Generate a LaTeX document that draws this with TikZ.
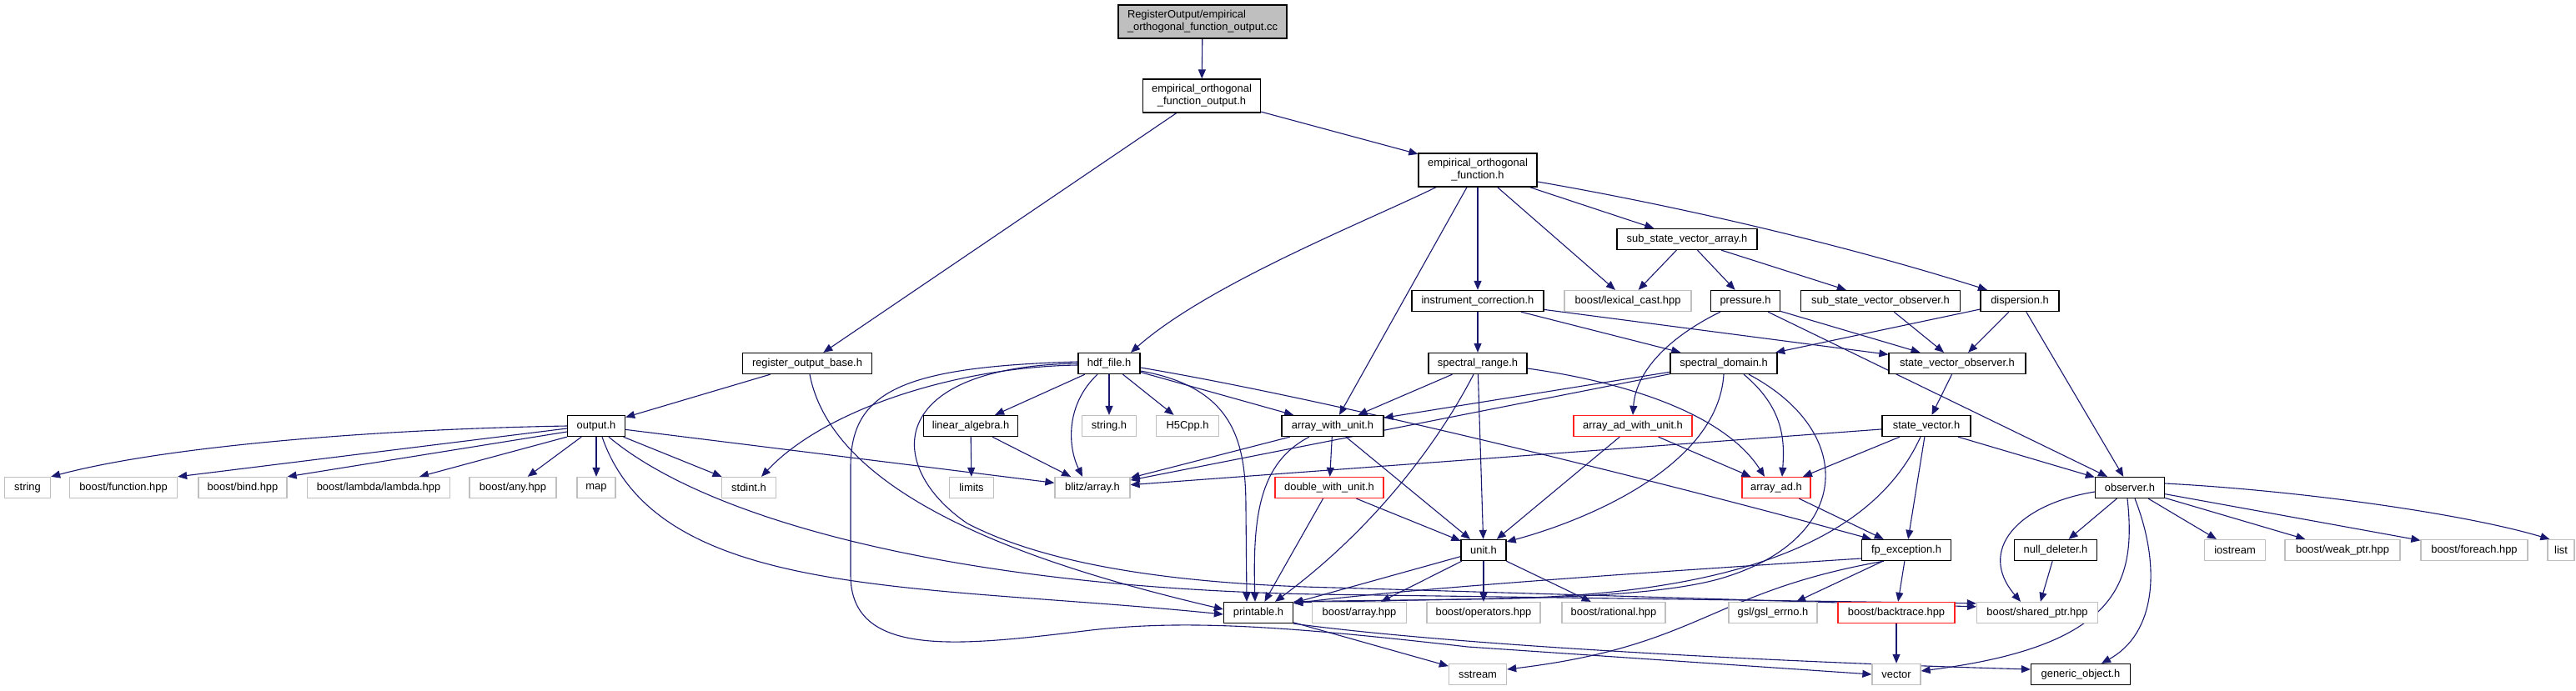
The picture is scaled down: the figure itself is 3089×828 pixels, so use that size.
\documentclass[tikz,border=0pt]{standalone}
\usepackage{fontspec}
\setmainfont{Liberation Sans}
\usetikzlibrary{arrows.meta}
\definecolor{edgecol}{HTML}{191970}
\definecolor{sysgray}{HTML}{BFBFBF}
\definecolor{ccfill}{HTML}{BFBFBF}
\definecolor{trunc}{HTML}{FF2020}
\pgfdeclarelayer{bgl}
\pgfdeclarelayer{edges}
\pgfsetlayers{bgl,edges,main}
\tikzset{
  box/.style={draw=black, line width=1.3pt, fill=white, minimum height=25pt, inner sep=0pt,
              font=\fontsize{12.9pt}{15pt}\selectfont, text=black},
  sysbox/.style={box, draw=sysgray},
  truncbox/.style={box, draw=trunc},
  dep/.style={draw=edgecol, line width=1.1pt, -{Triangle[length=11pt,width=9pt]}},
}
\begin{document}
\begin{tikzpicture}[x=1pt,y=-1pt]
\begin{pgfonlayer}{bgl}
\fill[white] (0,0) rectangle (3089,828);
\end{pgfonlayer}
\useasboundingbox (0,0) rectangle (3089,828);

% ---------- nodes ----------
\node[box, fill=ccfill, minimum width=202pt, minimum height=40pt, align=left] (cc) at (1442,26) {RegisterOutput/empirical\\\_orthogonal\_function\_output.cc};
\node[box, minimum width=141pt, minimum height=40pt, align=center] (eofo) at (1441,115) {empirical\_orthogonal\\\_function\_output.h};
\node[box, minimum width=142pt, minimum height=40pt, align=center] (eof) at (1772,204) {empirical\_orthogonal\\\_function.h};
\node[box, minimum width=168pt] (ssva) at (2023,287) {sub\_state\_vector\_array.h};
\node[box, minimum width=158pt] (instr) at (1772,361) {instrument\_correction.h};
\node[sysbox, minimum width=152pt] (lexcast) at (1952,361) {boost/lexical\_cast.hpp};
\node[box, minimum width=83pt] (pressure) at (2093,361) {pressure.h};
\node[box, minimum width=191pt] (ssvo) at (2255,361) {sub\_state\_vector\_observer.h};
\node[box, minimum width=94pt] (disp) at (2422,361) {dispersion.h};
\node[box, minimum width=155pt] (rob) at (968,436) {register\_output\_base.h};
\node[box, minimum width=74pt] (hdf) at (1330,436) {hdf\_file.h};
\node[box, minimum width=118pt] (specrange) at (1772,436) {spectral\_range.h};
\node[box, minimum width=128pt] (specdom) at (2067,436) {spectral\_domain.h};
\node[box, minimum width=164pt] (svo) at (2347,436) {state\_vector\_observer.h};
\node[box, minimum width=69pt] (output) at (715,511) {output.h};
\node[box, minimum width=113pt] (linalg) at (1164,511) {linear\_algebra.h};
\node[sysbox, minimum width=65pt] (stringh) at (1330,511) {string.h};
\node[sysbox, minimum width=75pt] (hfive) at (1424,511) {H5Cpp.h};
\node[box, minimum width=122pt] (awu) at (1598,511) {array\_with\_unit.h};
\node[truncbox, minimum width=142pt] (aawu) at (1958,511) {array\_ad\_with\_unit.h};
\node[box, minimum width=106pt] (sv) at (2310,511) {state\_vector.h};
\node[sysbox, minimum width=55pt] (string) at (33,585) {string};
\node[sysbox, minimum width=129pt] (bfunc) at (148,585) {boost/function.hpp};
\node[sysbox, minimum width=106pt] (bbind) at (291,585) {boost/bind.hpp};
\node[sysbox, minimum width=171pt] (blambda) at (454,585) {boost/lambda/lambda.hpp};
\node[sysbox, minimum width=104pt] (bany) at (615,585) {boost/any.hpp};
\node[sysbox, minimum width=46pt] (map) at (715,585) {map};
\node[sysbox, minimum width=65pt] (stdint) at (898,585) {stdint.h};
\node[sysbox, minimum width=53pt] (limits) at (1165,585) {limits};
\node[sysbox, minimum width=90pt] (blitz) at (1310,585) {blitz/array.h};
\node[truncbox, minimum width=130pt] (dwu) at (1594,585) {double\_with\_unit.h};
\node[truncbox, minimum width=82pt] (arrayad) at (2130,585) {array\_ad.h};
\node[box, minimum width=83pt] (observer) at (2554,585) {observer.h};
\node[box, minimum width=54pt] (unit) at (1779,660) {unit.h};
\node[box, minimum width=107pt] (fpexc) at (2286,660) {fp\_exception.h};
\node[box, minimum width=99pt] (nulldel) at (2465,660) {null\_deleter.h};
\node[sysbox, minimum width=73pt] (iostream) at (2680,660) {iostream};
\node[sysbox, minimum width=138pt] (weakptr) at (2809,660) {boost/weak\_ptr.hpp};
\node[sysbox, minimum width=128pt] (foreach) at (2967,660) {boost/foreach.hpp};
\node[sysbox, minimum width=32pt] (list) at (3071,660) {list};
\node[box, minimum width=83pt] (printable) at (1509,735) {printable.h};
\node[sysbox, minimum width=113pt] (barray) at (1630,735) {boost/array.hpp};
\node[sysbox, minimum width=136pt] (bops) at (1779,735) {boost/operators.hpp};
\node[sysbox, minimum width=124pt] (brational) at (1935,735) {boost/rational.hpp};
\node[sysbox, minimum width=106pt] (gsl) at (2126,735) {gsl/gsl\_errno.h};
\node[truncbox, minimum width=140pt] (backtrace) at (2274,735) {boost/backtrace.hpp};
\node[sysbox, minimum width=145pt] (sharedptr) at (2443,735) {boost/shared\_ptr.hpp};
\node[sysbox, minimum width=69pt] (sstream) at (1772,809) {sstream};
\node[sysbox, minimum width=58pt] (vector) at (2274,809) {vector};
\node[box, minimum width=119pt] (generic) at (2495,809) {generic\_object.h};

% ---------- edges ----------
\begin{pgfonlayer}{edges}
\draw[dep] (cc) -- (eofo);
\draw[dep] (eofo) -- (rob);
\draw[dep] (eofo) -- (eof);
\draw[dep] ([xshift=-50pt]eof.south) .. controls (1640,265) and (1450,340) .. ([xshift=26pt]hdf.north);
\draw[dep] ([xshift=-13pt]eof.south) -- ([xshift=8pt]awu.north);
\draw[dep] (eof) -- (instr);
\draw[dep] (eof) -- (lexcast);
\draw[dep] (eof) -- (ssva);
\draw[dep] ([yshift=-14pt]eof.east) .. controls (2000,245) and (2200,290) .. ([xshift=-39pt]disp.north);

\draw[dep] (rob) -- (output);
\draw[dep] ([xshift=3pt]rob.south) .. controls (1000,600) and (1250,680) .. ([yshift=4pt]printable.west);

\draw[dep] (output.west) .. controls (450,515) and (200,535) .. (string.north east);
\draw[dep] ([yshift=-3pt]output.west) -- (bfunc.north east);
\draw[dep] ([yshift=-7pt]output.west) -- (bbind.north east);
\draw[dep] (output.south west) -- ([xshift=49pt]blambda.north);
\draw[dep] (output) -- (bany);
\draw[dep] (output) -- (map);
\draw[dep] ([xshift=7pt]output.south) .. controls (790,720) and (1100,700) .. ([yshift=-2pt]printable.west);
\draw[dep] (output) -- (stdint);
\draw[dep] (output) -- (blitz);
\draw[dep] ([xshift=15pt]output.south) .. controls (850,625) and (1150,705) .. (1580,713) -- ([yshift=-2pt]sharedptr.north west);

\draw[dep] ([yshift=-2pt]hdf.west) .. controls (1150,440) and (990,490) .. ([xshift=15pt]stdint.north);
\draw[dep] (hdf.west) .. controls (1060,440) and (1060,560) .. (1160,628) .. controls (1260,680) and (1420,701) .. (1600,705) -- ([yshift=-6pt]sharedptr.north west);
\draw[dep] ([yshift=2pt]hdf.west) .. controls (1080,440) and (1020,470) .. (1020,560) -- (1020,690) .. controls (1020,790) and (1150,775) .. (1300,757) .. controls (1420,742) and (1550,752) .. (1760,776) -- (vector.west);
\draw[dep] (hdf) -- (linalg);
\draw[dep] ([xshift=-14pt]hdf.south) .. controls (1278,485) and (1280,535) .. ([xshift=-12pt]blitz.north);
\draw[dep] (hdf) -- (stringh);
\draw[dep] (hdf) -- (hfive);
\draw[dep] (hdf) -- (awu);
\draw[dep] ([yshift=-9pt]hdf.east) .. controls (1480,465) and (1494,530) .. (1494,610) -- ([xshift=-14pt]printable.north);
\draw[dep] ([yshift=-5pt]hdf.east) .. controls (1600,480) and (2000,580) .. ([xshift=-42pt]fpexc.north);

\draw[dep] (linalg) -- (limits);
\draw[dep] (linalg) -- (blitz);

\draw[dep] (awu) -- (blitz);
\draw[dep] (awu) -- (dwu);
\draw[dep] (awu) -- (unit);
\draw[dep] ([xshift=-28pt]awu.south) .. controls (1510,555) and (1502,620) .. ([xshift=-4pt]printable.north);

\draw[dep] (dwu) -- (unit);
\draw[dep] (dwu) -- (printable);

\draw[dep] (unit) -- (printable);
\draw[dep] (unit) -- (barray);
\draw[dep] (unit) -- (bops);
\draw[dep] (unit) -- (brational);

\draw[dep] (specrange) -- (awu);
\draw[dep] (specrange) -- (unit);
\draw[dep] ([xshift=-5pt]specrange.south) .. controls (1720,540) and (1640,640) .. ([xshift=20pt]printable.north);
\draw[dep] ([yshift=-6pt]specrange.east) .. controls (1960,460) and (2070,500) .. ([xshift=-14pt]arrayad.north);

\draw[dep] (instr) -- (specrange);
\draw[dep] (instr) -- (specdom);
\draw[dep] (instr) -- (svo);

\draw[dep] ([xshift=-30pt]pressure.south) .. controls (2010,400) and (1962,440) .. (aawu.north);
\draw[dep] (pressure) -- (svo);
\draw[dep] (pressure) -- (observer);

\draw[dep] (ssva) -- (lexcast);
\draw[dep] (ssva) -- (pressure);
\draw[dep] (ssva) -- (ssvo);
\draw[dep] (ssvo) -- ([xshift=-16pt]svo.north);

\draw[dep] (disp) -- (svo);
\draw[dep] (disp) -- (observer);
\draw[dep] (disp) -- (specdom);

\draw[dep] (svo) -- (sv);
\draw[dep] (sv) -- (blitz);
\draw[dep] (sv) -- (arrayad);
\draw[dep] (sv) -- (fpexc);
\draw[dep] ([xshift=38pt]sv.south) -- (observer);
\draw[dep] ([xshift=-7pt]sv.south) .. controls (2250,640) and (2100,712) .. (1800,718) -- ([yshift=-1pt]printable.north east);

\draw[dep] (specdom) -- (awu);
\draw[dep] (specdom) -- (blitz);
\draw[dep] (specdom.south) .. controls (2060,560) and (1900,625) .. ([yshift=10pt]unit.east);
\draw[dep] ([xshift=24pt]specdom.south) .. controls (2140,490) and (2140,530) .. ([xshift=7pt]arrayad.north);
\draw[dep] ([xshift=30pt]specdom.south) .. controls (2230,520) and (2220,650) .. (2060,695) .. controls (1960,722) and (1750,718) .. (printable.north east);

\draw[dep] (aawu) -- (unit);
\draw[dep] (aawu) -- (arrayad);
\draw[dep] (arrayad) -- (fpexc);

\draw[dep] ([yshift=-10pt]fpexc.west) .. controls (2000,685) and (1700,705) .. ([yshift=-2pt]printable.north east);
\draw[dep] ([xshift=-27pt]fpexc.south) .. controls (2050,710) and (2040,775) .. ([yshift=6pt]sstream.east);
\draw[dep] (fpexc) -- (gsl);
\draw[dep] (fpexc) -- (backtrace);
\draw[dep] (backtrace) -- (vector);

\draw[dep] (printable) -- (sstream);
\draw[dep] (printable.south east) .. controls (1750,775) and (2150,795) .. ([yshift=6pt]generic.west);

\draw[dep] ([yshift=-5pt]observer.west) .. controls (2420,605) and (2370,660) .. ([xshift=-20pt]sharedptr.north);
\draw[dep] (observer) -- (nulldel);
\draw[dep] ([xshift=-3pt]observer.south) .. controls (2562,700) and (2540,775) .. ([yshift=4pt]vector.east);
\draw[dep] ([xshift=6pt]observer.south) .. controls (2592,680) and (2585,760) .. ([xshift=25pt]generic.north);
\draw[dep] (observer) -- (iostream);
\draw[dep] (observer) -- (weakptr);
\draw[dep] (observer) -- (foreach);
\draw[dep] ([yshift=5pt]observer.east) .. controls (2750,588) and (2950,615) .. ([xshift=3pt]list.north west);
\draw[dep] (nulldel) -- (sharedptr);
\end{pgfonlayer}
\end{tikzpicture}
\end{document}
